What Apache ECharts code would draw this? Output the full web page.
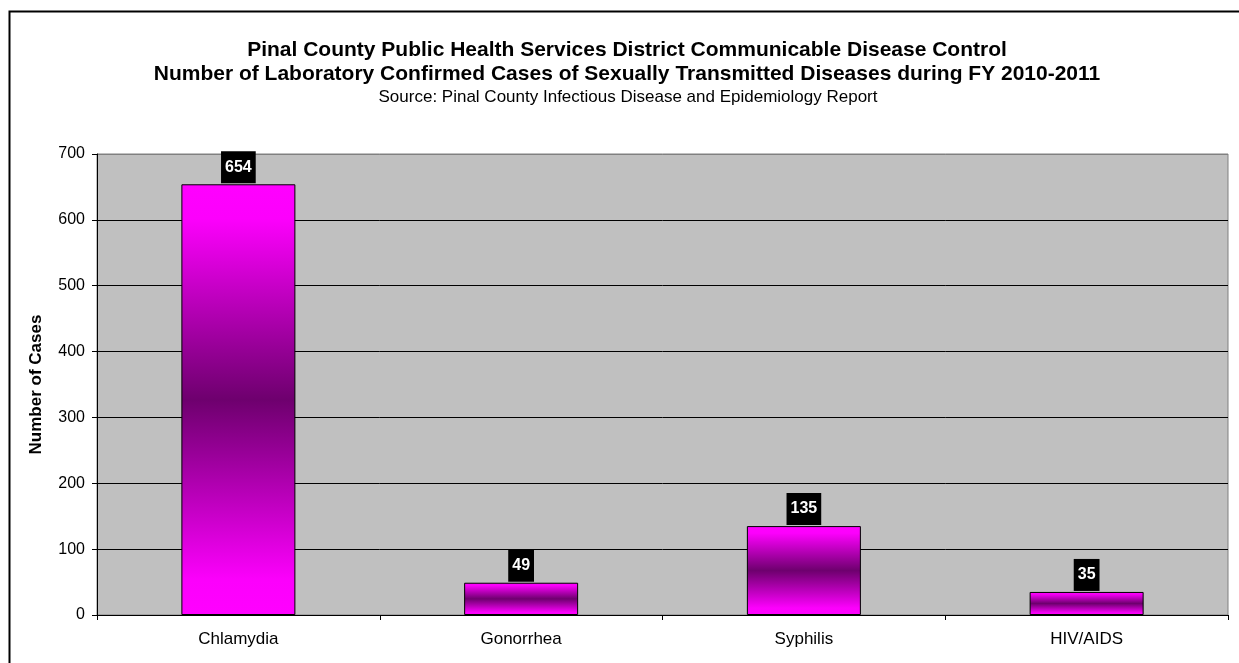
<!DOCTYPE html>
<html>
<head>
<meta charset="utf-8">
<script src="https://cdn.jsdelivr.net/npm/echarts@6/dist/echarts.min.js"></script>
<style>
html,body{margin:0;padding:0;background:#fff;}
#c{width:1239px;height:663px;}
</style>
</head>
<body>
<div id="c"></div>
<script>
var titleLine1 = 'Pinal County Public Health Services District Communicable Disease Control';
var titleLine2 = 'Number of Laboratory Confirmed Cases of Sexually Transmitted Diseases during FY 2010-2011';
var subtitle = 'Source: Pinal County Infectious Disease and Epidemiology Report';
var categories = ['Chlamydia', 'Gonorrhea', 'Syphilis', 'HIV/AIDS'];
var cases = [654, 49, 135, 35];
var yAxisName = 'Number of Cases';

var FONT = '"Liberation Sans", Arial, sans-serif';
var chart = echarts.init(document.getElementById('c'), null, {renderer: 'canvas'});
var grad = new echarts.graphic.LinearGradient(0, 0, 0, 1, [
  {offset: 0, color: '#ff00ff'},
  {offset: 0.08, color: '#fc00fc'},
  {offset: 0.5, color: '#6e006e'},
  {offset: 0.92, color: '#fc00fc'},
  {offset: 1, color: '#ff00ff'}
]);
var splitColors = ['#000', '#000', '#000', '#000', '#000', '#000', '#000', '#808080'];
chart.setOption({
  animation: false,
  backgroundColor: '#fff',
  title: [
    {text: titleLine1, left: 622, textAlign: 'center', top: 35,
     textStyle: {fontFamily: FONT, fontSize: 21, fontWeight: 'bold', color: '#000'}},
    {text: titleLine2, left: 622, textAlign: 'center', top: 59,
     textStyle: {fontFamily: FONT, fontSize: 21, fontWeight: 'bold', color: '#000'}},
    {text: subtitle, left: 623, textAlign: 'center', top: 84,
     textStyle: {fontFamily: FONT, fontSize: 17, fontWeight: 'normal', color: '#000'}}
  ],
  graphic: [
    {type: 'rect', shape: {x: 9.5, y: 11.5, width: 1300, height: 700},
     style: {fill: 'none', stroke: '#000', lineWidth: 2}, z: 100}
  ],
  grid: {left: 97, right: 11, top: 154, bottom: 48, show: true,
         backgroundColor: '#c0c0c0', borderColor: '#808080', borderWidth: 1},
  xAxis: {
    type: 'category', data: categories,
    axisLine: {lineStyle: {color: '#000', width: 1}},
    axisTick: {show: true, length: 5, lineStyle: {color: '#000'}},
    axisLabel: {fontFamily: FONT, fontSize: 17, color: '#000', margin: 16}
  },
  yAxis: {
    type: 'value', min: 0, max: 700, interval: 100,
    name: yAxisName, nameLocation: 'middle', nameGap: 52,
    nameTextStyle: {fontFamily: FONT, fontSize: 17, fontWeight: 'bold', color: '#000'},
    axisLine: {show: true, lineStyle: {color: '#000', width: 1}},
    axisTick: {show: true, length: 5, lineStyle: {color: '#000'}},
    axisLabel: {fontFamily: FONT, fontSize: 16, color: '#000', margin: 12},
    splitLine: {show: true, lineStyle: {color: splitColors, width: 1}}
  },
  series: [{
    type: 'bar', data: cases, barWidth: 114,
    itemStyle: {color: grad, borderColor: '#000', borderWidth: 1},
    label: {show: true, position: 'top', distance: 1,
            fontFamily: FONT, fontSize: 16, fontWeight: 'bold', color: '#fff',
            backgroundColor: '#000', padding: [8, 4, 8, 4]}
  }]
});
</script>
</body>
</html>
